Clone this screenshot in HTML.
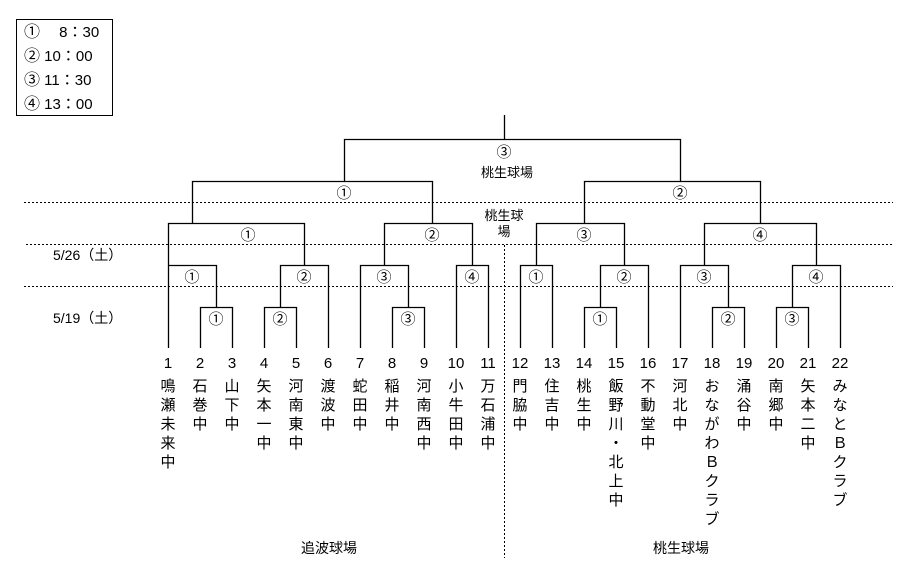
<!DOCTYPE html>
<html><head><meta charset="utf-8"><style>
html,body{margin:0;padding:0;background:#fff;width:903px;height:574px;overflow:hidden}
svg{display:block}
text{font-family:"Liberation Sans","Noto Sans CJK JP",sans-serif;fill:#000}
.c{font-size:15px;text-anchor:middle}
.n{font-size:15px;text-anchor:middle}
.v{font-size:15px;text-anchor:middle}
</style></head><body>
<svg width="903" height="574" viewBox="0 0 903 574" xmlns="http://www.w3.org/2000/svg">
<rect x="16.5" y="19.5" width="96" height="96" fill="none" stroke="#000" stroke-width="1"/>
<g style="font-size:15px">
<text x="24" y="37"><tspan style="font-size:16px">①</tspan> 　8：30</text>
<text x="24" y="61"><tspan style="font-size:16px">②</tspan> 10：00</text>
<text x="24" y="85"><tspan style="font-size:16px">③</tspan> 11：30</text>
<text x="24" y="109"><tspan style="font-size:16px">④</tspan> 13：00</text>
</g>
<g stroke="#000" stroke-width="1" stroke-dasharray="2,2">
<line x1="24" y1="202.5" x2="893" y2="202.5"/>
<line x1="26" y1="244.5" x2="893" y2="244.5"/>
<line x1="24" y1="286.5" x2="893" y2="286.5"/>
<line x1="504.5" y1="245" x2="504.5" y2="558"/>
</g>
<text x="53" y="260" style="font-size:14px">5/26（土）</text>
<text x="53" y="323" style="font-size:14px">5/19（土）</text>
<g fill="none" stroke="#000" stroke-width="1.3">
<path d="M504.5 115V139.5M344.5 181.5V139.5H680.5V181.5"/>
<path d="M192.5 223V181.5H432.5V223M584.5 223V181.5H760.5V223"/>
<path d="M168.5 265V223.5H304.5V265M384.5 265V223.5H472.5V265M536.5 265V223.5H624.5V265M704.5 265V223.5H816.5V265"/>
<path d="M168.5 348V265.5H216.5V307M280.5 307V265.5H328.5V348M360.5 348V265.5H408.5V307M456.5 348V265.5H488.5V348M520.5 348V265.5H552.5V348M600.5 307V265.5H648.5V348M680.5 348V265.5H728.5V307M792.5 307V265.5H840.5V348"/>
<path d="M200.5 348V307.5H232.5V348M264.5 348V307.5H296.5V348M392.5 348V307.5H424.5V348M584.5 348V307.5H616.5V348M712.5 348V307.5H744.5V348M776.5 348V307.5H808.5V348"/>
</g>
<g class="c">
<text x="504" y="157">③</text>
<text x="344" y="198">①</text><text x="680" y="198">②</text>
<text x="248" y="240">①</text><text x="432" y="240">②</text><text x="584" y="240">③</text><text x="760" y="240">④</text>
<text x="192" y="282">①</text><text x="304" y="282">②</text><text x="384" y="282">③</text><text x="472" y="282">④</text>
<text x="536" y="282">①</text><text x="624" y="282">②</text><text x="704" y="282">③</text><text x="816" y="282">④</text>
<text x="216" y="324">①</text><text x="280" y="324">②</text><text x="408" y="324">③</text>
<text x="600" y="324">①</text><text x="728" y="324">②</text><text x="792" y="324">③</text>
</g>
<g style="font-size:13px" text-anchor="middle">
<text x="507" y="177">桃生球場</text>
<text x="504" y="220">桃生球</text>
<text x="504" y="236">場</text>
<text x="329" y="553" style="font-size:14px">追波球場</text>
<text x="681" y="553" style="font-size:14px">桃生球場</text>
</g>
<g class="n">
<text x="168" y="368">1</text><text x="200" y="368">2</text><text x="232" y="368">3</text><text x="264" y="368">4</text><text x="296" y="368">5</text><text x="328" y="368">6</text><text x="360" y="368">7</text><text x="392" y="368">8</text><text x="424" y="368">9</text><text x="456" y="368">10</text><text x="488" y="368">11</text><text x="520" y="368">12</text><text x="552" y="368">13</text><text x="584" y="368">14</text><text x="616" y="368">15</text><text x="648" y="368">16</text><text x="680" y="368">17</text><text x="712" y="368">18</text><text x="744" y="368">19</text><text x="776" y="368">20</text><text x="808" y="368">21</text><text x="840" y="368">22</text>
</g>
<g class="v">
<text x="168" y="391">鳴</text><text x="168" y="410">瀬</text><text x="168" y="429">未</text><text x="168" y="448">来</text><text x="168" y="467">中</text>
<text x="200" y="391">石</text><text x="200" y="410">巻</text><text x="200" y="429">中</text>
<text x="232" y="391">山</text><text x="232" y="410">下</text><text x="232" y="429">中</text>
<text x="264" y="391">矢</text><text x="264" y="410">本</text><text x="264" y="429">一</text><text x="264" y="448">中</text>
<text x="296" y="391">河</text><text x="296" y="410">南</text><text x="296" y="429">東</text><text x="296" y="448">中</text>
<text x="328" y="391">渡</text><text x="328" y="410">波</text><text x="328" y="429">中</text>
<text x="360" y="391">蛇</text><text x="360" y="410">田</text><text x="360" y="429">中</text>
<text x="392" y="391">稲</text><text x="392" y="410">井</text><text x="392" y="429">中</text>
<text x="424" y="391">河</text><text x="424" y="410">南</text><text x="424" y="429">西</text><text x="424" y="448">中</text>
<text x="456" y="391">小</text><text x="456" y="410">牛</text><text x="456" y="429">田</text><text x="456" y="448">中</text>
<text x="488" y="391">万</text><text x="488" y="410">石</text><text x="488" y="429">浦</text><text x="488" y="448">中</text>
<text x="520" y="391">門</text><text x="520" y="410">脇</text><text x="520" y="429">中</text>
<text x="552" y="391">住</text><text x="552" y="410">吉</text><text x="552" y="429">中</text>
<text x="584" y="391">桃</text><text x="584" y="410">生</text><text x="584" y="429">中</text>
<text x="616" y="391">飯</text><text x="616" y="410">野</text><text x="616" y="429">川</text><text x="616" y="448">・</text><text x="616" y="467">北</text><text x="616" y="486">上</text><text x="616" y="505">中</text>
<text x="648" y="391">不</text><text x="648" y="410">動</text><text x="648" y="429">堂</text><text x="648" y="448">中</text>
<text x="680" y="391">河</text><text x="680" y="410">北</text><text x="680" y="429">中</text>
<text x="712" y="391">お</text><text x="712" y="410">な</text><text x="712" y="429">が</text><text x="712" y="448">わ</text><text x="712" y="467">Ｂ</text><text x="712" y="486">ク</text><text x="712" y="505">ラ</text><text x="712" y="524">ブ</text>
<text x="744" y="391">涌</text><text x="744" y="410">谷</text><text x="744" y="429">中</text>
<text x="776" y="391">南</text><text x="776" y="410">郷</text><text x="776" y="429">中</text>
<text x="808" y="391">矢</text><text x="808" y="410">本</text><text x="808" y="429">二</text><text x="808" y="448">中</text>
<text x="840" y="391">み</text><text x="840" y="410">な</text><text x="840" y="429">と</text><text x="840" y="448">Ｂ</text><text x="840" y="467">ク</text><text x="840" y="486">ラ</text><text x="840" y="505">ブ</text>
</g>
</svg>
</body></html>
